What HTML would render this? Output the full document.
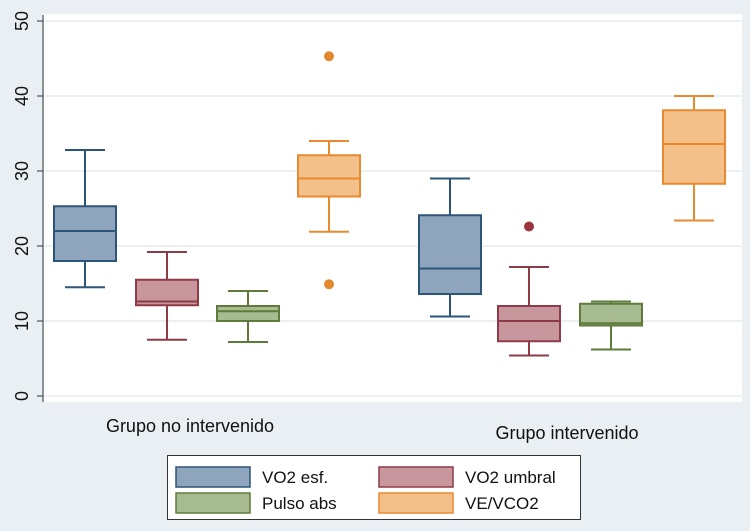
<!DOCTYPE html>
<html><head><meta charset="utf-8"><style>
body{margin:0;background:#e9eff3;}
svg{display:block;font-family:"Liberation Sans",sans-serif;}
</style></head><body>
<svg id="c" width="750" height="531">
<rect x="0" y="0" width="750" height="531" fill="#e9eff3"/>
<rect x="44" y="14" width="698" height="388" fill="#ffffff"/>
<g id="grid"></g><g id="axis"></g><g id="boxes"></g>
<text x="190" y="432" font-size="18" text-anchor="middle" fill="#111">Grupo no intervenido</text>
<text x="567" y="439" font-size="18" text-anchor="middle" fill="#111">Grupo intervenido</text>
<g>
<rect x="167.5" y="455.5" width="413" height="64" fill="#fff" stroke="#333" stroke-width="1"/>
<g id="leg"></g>
</g>
</svg>
<script>
const yTicks=[0,10,20,30,40,50];
const seriesNames=["VO2 esf.","VO2 umbral","Pulso abs","VE/VCO2"];
const groupNames=["Grupo no intervenido","Grupo intervenido"];
const whiskLo=[[14.5,7.5,7.2,21.9],[10.6,5.4,6.2,23.4]];
const q1=[[18,12.1,10,26.6],[13.6,7.3,9.4,28.3]];
const med=[[22,12.6,11.3,29],[17,10,9.7,33.6]];
const q3=[[25.3,15.5,12,32.1],[24.1,12,12.3,38.1]];
const whiskHi=[[32.8,19.2,14,34],[29,17.2,12.6,40]];
const outliers=[[[],[],[],[45.3,14.9]],[[],[22.6],[],[]]];
const fills=["#8ea5bd","#c8979d","#a6bc90","#f4c08a"];
const strokes=["#2d5579","#8c3b47","#5e7b3b","#e98a2f"];
const NS="http://www.w3.org/2000/svg";
function y(v){return 396-v*7.5;}
function xc(g,s){return [85,167,248,329][s]+g*364-(g?[-1,2,1,-1][s]:0);}
function mk(tag,attrs,parent){const e=document.createElementNS(NS,tag);for(const k in attrs)e.setAttribute(k,attrs[k]);parent.appendChild(e);return e;}
const grid=document.getElementById('grid'),axis=document.getElementById('axis'),boxes=document.getElementById('boxes'),leg=document.getElementById('leg');
yTicks.forEach(t=>{
 const gl=mk('line',{x1:44,x2:742,y1:y(t),y2:y(t),stroke:'#e6ecf0','stroke-width':1.5},grid);
 
 
 const tk=mk('line',{x1:37,x2:43,y1:y(t),y2:y(t),stroke:'#333','stroke-width':1},axis);
 
 
 const tx=mk('text',{x:0,y:0,'font-size':18,fill:'#111','text-anchor':'middle',transform:`translate(28,${y(t)}) rotate(-90)`},axis);
 tx.textContent=t;
 
 
});
const ax=mk('line',{x1:43,x2:43,y1:15,y2:402,stroke:'#333','stroke-width':1},axis);


for(let g=0;g<2;g++)for(let s=0;s<4;s++){
 const cx=xc(g,s),w=31,cw=20;
 const grp=mk('g',{},boxes);
 
 
 const st={stroke:strokes[s],'stroke-width':2,fill:'none'};
 mk('line',Object.assign({x1:cx,x2:cx,y1:y(whiskHi[g][s]),y2:y(q3[g][s])},st),grp);
 mk('line',Object.assign({x1:cx,x2:cx,y1:y(whiskLo[g][s]),y2:y(q1[g][s])},st),grp);
 mk('line',Object.assign({x1:cx-cw,x2:cx+cw,y1:y(whiskHi[g][s]),y2:y(whiskHi[g][s])},st),grp);
 mk('line',Object.assign({x1:cx-cw,x2:cx+cw,y1:y(whiskLo[g][s]),y2:y(whiskLo[g][s])},st),grp);
 mk('rect',{x:cx-w,y:y(q3[g][s]),width:2*w,height:y(q1[g][s])-y(q3[g][s]),fill:fills[s],stroke:strokes[s],'stroke-width':2},grp);
 mk('line',Object.assign({x1:cx-w,x2:cx+w,y1:y(med[g][s]),y2:y(med[g][s])},st),grp);
 outliers[g][s].forEach(o=>{
  const c=mk('circle',{cx:cx,cy:y(o),r:5,fill:s==3?'#e2892f':'#9c3440'},grp);
  
  
 });
}
const lp=[[176,467],[379,467],[176,493],[379,493]];
seriesNames.forEach((n,i)=>{
 const r=mk('rect',{x:lp[i][0],y:lp[i][1],width:74,height:20,fill:fills[i],stroke:strokes[i],'stroke-width':1.5},leg);
 
 
 const t=mk('text',{x:lp[i][0]+86,y:lp[i][1]+16,'font-size':17,fill:'#111'},leg);
 t.textContent=n;
 
 
});
</script>
</body></html>
